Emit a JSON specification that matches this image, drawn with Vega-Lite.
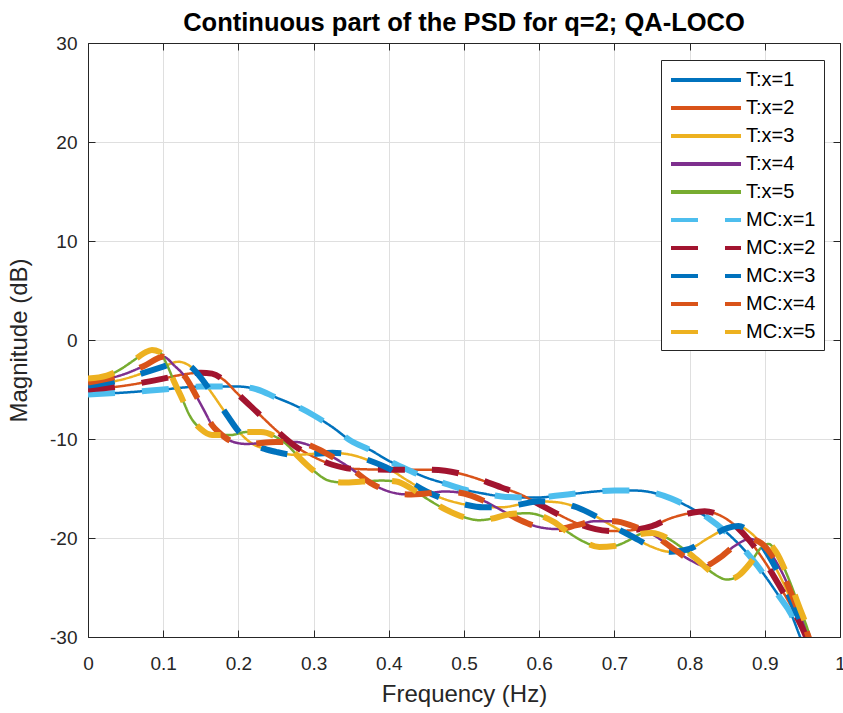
{
"$schema": "https://vega.github.io/schema/vega-lite/v6.json",
"width": 752, "height": 594,
"autosize": {"type": "none"},
"padding": {"left": 88, "top": 43, "right": 3, "bottom": 76},
"background": "white",
"title": {"text": "Continuous part of the PSD for q=2; QA-LOCO", "font": "Liberation Sans", "fontSize": 25.5, "fontWeight": "bold", "color": "black", "anchor": "middle", "offset": -2},
"config": {"view": {"stroke": null}},
"datasets": {
"T": [
{"s":"T:x=1","f":0,"m":-5.5},{"s":"T:x=1","f":0.05,"m":-5.3},{"s":"T:x=1","f":0.1,"m":-5.0},{"s":"T:x=1","f":0.15,"m":-4.7},{"s":"T:x=1","f":0.2,"m":-4.7},{"s":"T:x=1","f":0.225,"m":-5.0},{"s":"T:x=1","f":0.25,"m":-5.8},{"s":"T:x=1","f":0.275,"m":-6.6},{"s":"T:x=1","f":0.3,"m":-7.6},{"s":"T:x=1","f":0.325,"m":-8.8},{"s":"T:x=1","f":0.35,"m":-10.2},{"s":"T:x=1","f":0.375,"m":-11.1},{"s":"T:x=1","f":0.4,"m":-12.2},{"s":"T:x=1","f":0.425,"m":-13.1},{"s":"T:x=1","f":0.45,"m":-13.9},{"s":"T:x=1","f":0.475,"m":-14.5},{"s":"T:x=1","f":0.5,"m":-15.1},{"s":"T:x=1","f":0.525,"m":-15.5},{"s":"T:x=1","f":0.55,"m":-15.8},{"s":"T:x=1","f":0.575,"m":-15.9},{"s":"T:x=1","f":0.6,"m":-15.9},{"s":"T:x=1","f":0.625,"m":-15.7},{"s":"T:x=1","f":0.65,"m":-15.5},{"s":"T:x=1","f":0.675,"m":-15.3},{"s":"T:x=1","f":0.7,"m":-15.2},{"s":"T:x=1","f":0.725,"m":-15.2},{"s":"T:x=1","f":0.75,"m":-15.4},{"s":"T:x=1","f":0.775,"m":-16.0},{"s":"T:x=1","f":0.8,"m":-16.9},{"s":"T:x=1","f":0.825,"m":-18.0},{"s":"T:x=1","f":0.85,"m":-19.5},{"s":"T:x=1","f":0.875,"m":-21.4},{"s":"T:x=1","f":0.9,"m":-23.8},{"s":"T:x=1","f":0.92,"m":-26.0},{"s":"T:x=1","f":0.935,"m":-27.7},{"s":"T:x=1","f":0.947,"m":-30},{"s":"T:x=1","f":0.955,"m":-31.5},
{"s":"T:x=2","f":0,"m":-5.0},{"s":"T:x=2","f":0.05,"m":-4.6},{"s":"T:x=2","f":0.1,"m":-3.9},{"s":"T:x=2","f":0.125,"m":-3.5},{"s":"T:x=2","f":0.15,"m":-3.3},{"s":"T:x=2","f":0.165,"m":-3.4},{"s":"T:x=2","f":0.18,"m":-4.0},{"s":"T:x=2","f":0.2,"m":-5.5},{"s":"T:x=2","f":0.225,"m":-7.3},{"s":"T:x=2","f":0.25,"m":-9.1},{"s":"T:x=2","f":0.275,"m":-10.7},{"s":"T:x=2","f":0.3,"m":-11.8},{"s":"T:x=2","f":0.325,"m":-12.6},{"s":"T:x=2","f":0.35,"m":-13.0},{"s":"T:x=2","f":0.4,"m":-13.1},{"s":"T:x=2","f":0.45,"m":-13.1},{"s":"T:x=2","f":0.475,"m":-13.2},{"s":"T:x=2","f":0.5,"m":-13.6},{"s":"T:x=2","f":0.525,"m":-14.2},{"s":"T:x=2","f":0.55,"m":-14.9},{"s":"T:x=2","f":0.575,"m":-15.6},{"s":"T:x=2","f":0.6,"m":-16.6},{"s":"T:x=2","f":0.625,"m":-17.6},{"s":"T:x=2","f":0.65,"m":-18.5},{"s":"T:x=2","f":0.675,"m":-19.1},{"s":"T:x=2","f":0.7,"m":-19.3},{"s":"T:x=2","f":0.725,"m":-19.2},{"s":"T:x=2","f":0.75,"m":-18.8},{"s":"T:x=2","f":0.775,"m":-18.0},{"s":"T:x=2","f":0.8,"m":-17.5},{"s":"T:x=2","f":0.82,"m":-17.3},{"s":"T:x=2","f":0.84,"m":-17.7},{"s":"T:x=2","f":0.86,"m":-18.7},{"s":"T:x=2","f":0.88,"m":-20.3},{"s":"T:x=2","f":0.9,"m":-22.4},{"s":"T:x=2","f":0.92,"m":-24.9},{"s":"T:x=2","f":0.94,"m":-27.6},{"s":"T:x=2","f":0.955,"m":-30},{"s":"T:x=2","f":0.962,"m":-31.5},
{"s":"T:x=3","f":0,"m":-4.6},{"s":"T:x=3","f":0.05,"m":-3.9},{"s":"T:x=3","f":0.075,"m":-3.3},{"s":"T:x=3","f":0.1,"m":-2.7},{"s":"T:x=3","f":0.12,"m":-2.2},{"s":"T:x=3","f":0.135,"m":-2.6},{"s":"T:x=3","f":0.15,"m":-3.8},{"s":"T:x=3","f":0.165,"m":-5.4},{"s":"T:x=3","f":0.185,"m":-7.6},{"s":"T:x=3","f":0.2,"m":-9.2},{"s":"T:x=3","f":0.215,"m":-10.3},{"s":"T:x=3","f":0.235,"m":-11.0},{"s":"T:x=3","f":0.25,"m":-11.3},{"s":"T:x=3","f":0.275,"m":-11.6},{"s":"T:x=3","f":0.3,"m":-11.5},{"s":"T:x=3","f":0.325,"m":-11.4},{"s":"T:x=3","f":0.35,"m":-11.6},{"s":"T:x=3","f":0.375,"m":-12.2},{"s":"T:x=3","f":0.4,"m":-13.0},{"s":"T:x=3","f":0.425,"m":-14.2},{"s":"T:x=3","f":0.45,"m":-15.3},{"s":"T:x=3","f":0.475,"m":-16.1},{"s":"T:x=3","f":0.5,"m":-16.6},{"s":"T:x=3","f":0.525,"m":-16.9},{"s":"T:x=3","f":0.55,"m":-16.9},{"s":"T:x=3","f":0.575,"m":-16.6},{"s":"T:x=3","f":0.6,"m":-16.3},{"s":"T:x=3","f":0.625,"m":-16.4},{"s":"T:x=3","f":0.65,"m":-16.9},{"s":"T:x=3","f":0.675,"m":-17.8},{"s":"T:x=3","f":0.7,"m":-18.9},{"s":"T:x=3","f":0.725,"m":-19.9},{"s":"T:x=3","f":0.75,"m":-20.9},{"s":"T:x=3","f":0.775,"m":-21.4},{"s":"T:x=3","f":0.8,"m":-21.1},{"s":"T:x=3","f":0.825,"m":-20.0},{"s":"T:x=3","f":0.85,"m":-19.0},{"s":"T:x=3","f":0.865,"m":-18.8},{"s":"T:x=3","f":0.88,"m":-19.4},{"s":"T:x=3","f":0.895,"m":-20.6},{"s":"T:x=3","f":0.91,"m":-22.4},{"s":"T:x=3","f":0.925,"m":-24.6},{"s":"T:x=3","f":0.94,"m":-27.2},{"s":"T:x=3","f":0.955,"m":-30},{"s":"T:x=3","f":0.96,"m":-31.5},
{"s":"T:x=4","f":0,"m":-4.3},{"s":"T:x=4","f":0.05,"m":-3.4},{"s":"T:x=4","f":0.075,"m":-2.6},{"s":"T:x=4","f":0.1,"m":-1.7},{"s":"T:x=4","f":0.115,"m":-2.6},{"s":"T:x=4","f":0.13,"m":-3.8},{"s":"T:x=4","f":0.145,"m":-5.8},{"s":"T:x=4","f":0.155,"m":-7.2},{"s":"T:x=4","f":0.165,"m":-8.6},{"s":"T:x=4","f":0.175,"m":-9.4},{"s":"T:x=4","f":0.19,"m":-10.2},{"s":"T:x=4","f":0.21,"m":-10.5},{"s":"T:x=4","f":0.25,"m":-10.3},{"s":"T:x=4","f":0.275,"m":-10.3},{"s":"T:x=4","f":0.3,"m":-10.8},{"s":"T:x=4","f":0.325,"m":-11.8},{"s":"T:x=4","f":0.35,"m":-13.0},{"s":"T:x=4","f":0.375,"m":-14.4},{"s":"T:x=4","f":0.4,"m":-15.3},{"s":"T:x=4","f":0.425,"m":-15.6},{"s":"T:x=4","f":0.45,"m":-15.5},{"s":"T:x=4","f":0.475,"m":-15.3},{"s":"T:x=4","f":0.5,"m":-15.5},{"s":"T:x=4","f":0.525,"m":-16.2},{"s":"T:x=4","f":0.55,"m":-17.2},{"s":"T:x=4","f":0.575,"m":-18.2},{"s":"T:x=4","f":0.6,"m":-18.9},{"s":"T:x=4","f":0.625,"m":-19.1},{"s":"T:x=4","f":0.65,"m":-18.7},{"s":"T:x=4","f":0.675,"m":-18.3},{"s":"T:x=4","f":0.7,"m":-18.3},{"s":"T:x=4","f":0.725,"m":-18.8},{"s":"T:x=4","f":0.75,"m":-19.6},{"s":"T:x=4","f":0.775,"m":-20.9},{"s":"T:x=4","f":0.8,"m":-22.2},{"s":"T:x=4","f":0.82,"m":-22.8},{"s":"T:x=4","f":0.84,"m":-22.0},{"s":"T:x=4","f":0.86,"m":-20.8},{"s":"T:x=4","f":0.88,"m":-20.1},{"s":"T:x=4","f":0.895,"m":-20.5},{"s":"T:x=4","f":0.91,"m":-21.8},{"s":"T:x=4","f":0.925,"m":-23.8},{"s":"T:x=4","f":0.94,"m":-26.5},{"s":"T:x=4","f":0.955,"m":-29.3},{"s":"T:x=4","f":0.965,"m":-31.5},
{"s":"T:x=5","f":0,"m":-3.9},{"s":"T:x=5","f":0.025,"m":-3.6},{"s":"T:x=5","f":0.04,"m":-3.1},{"s":"T:x=5","f":0.06,"m":-2.1},{"s":"T:x=5","f":0.075,"m":-1.3},{"s":"T:x=5","f":0.085,"m":-1.0},{"s":"T:x=5","f":0.095,"m":-1.2},{"s":"T:x=5","f":0.105,"m":-2.5},{"s":"T:x=5","f":0.115,"m":-4.3},{"s":"T:x=5","f":0.125,"m":-5.9},{"s":"T:x=5","f":0.135,"m":-7.6},{"s":"T:x=5","f":0.15,"m":-9.0},{"s":"T:x=5","f":0.165,"m":-9.6},{"s":"T:x=5","f":0.19,"m":-9.6},{"s":"T:x=5","f":0.21,"m":-9.3},{"s":"T:x=5","f":0.23,"m":-9.3},{"s":"T:x=5","f":0.25,"m":-9.8},{"s":"T:x=5","f":0.265,"m":-10.6},{"s":"T:x=5","f":0.28,"m":-11.8},{"s":"T:x=5","f":0.3,"m":-13.2},{"s":"T:x=5","f":0.32,"m":-14.2},{"s":"T:x=5","f":0.34,"m":-14.4},{"s":"T:x=5","f":0.365,"m":-14.3},{"s":"T:x=5","f":0.39,"m":-14.2},{"s":"T:x=5","f":0.41,"m":-14.3},{"s":"T:x=5","f":0.43,"m":-15.0},{"s":"T:x=5","f":0.45,"m":-16.0},{"s":"T:x=5","f":0.475,"m":-17.1},{"s":"T:x=5","f":0.5,"m":-17.9},{"s":"T:x=5","f":0.52,"m":-18.2},{"s":"T:x=5","f":0.54,"m":-18.0},{"s":"T:x=5","f":0.56,"m":-17.6},{"s":"T:x=5","f":0.585,"m":-17.5},{"s":"T:x=5","f":0.6,"m":-17.7},{"s":"T:x=5","f":0.62,"m":-18.4},{"s":"T:x=5","f":0.64,"m":-19.5},{"s":"T:x=5","f":0.66,"m":-20.4},{"s":"T:x=5","f":0.68,"m":-20.9},{"s":"T:x=5","f":0.7,"m":-20.8},{"s":"T:x=5","f":0.72,"m":-20.2},{"s":"T:x=5","f":0.735,"m":-19.6},{"s":"T:x=5","f":0.75,"m":-19.5},{"s":"T:x=5","f":0.77,"m":-20.0},{"s":"T:x=5","f":0.79,"m":-21.0},{"s":"T:x=5","f":0.81,"m":-22.2},{"s":"T:x=5","f":0.83,"m":-23.5},{"s":"T:x=5","f":0.85,"m":-24.2},{"s":"T:x=5","f":0.865,"m":-23.8},{"s":"T:x=5","f":0.88,"m":-22.6},{"s":"T:x=5","f":0.895,"m":-21.0},{"s":"T:x=5","f":0.905,"m":-20.6},{"s":"T:x=5","f":0.915,"m":-21.4},{"s":"T:x=5","f":0.93,"m":-23.8},{"s":"T:x=5","f":0.945,"m":-26.8},{"s":"T:x=5","f":0.96,"m":-30},{"s":"T:x=5","f":0.965,"m":-31.5}
],
"MC": [
{"s":"MC:x=1","f":0,"m":-5.5},{"s":"MC:x=1","f":0.05,"m":-5.3},{"s":"MC:x=1","f":0.1,"m":-5.0},{"s":"MC:x=1","f":0.15,"m":-4.7},{"s":"MC:x=1","f":0.2,"m":-4.7},{"s":"MC:x=1","f":0.225,"m":-5.0},{"s":"MC:x=1","f":0.25,"m":-5.8},{"s":"MC:x=1","f":0.275,"m":-6.6},{"s":"MC:x=1","f":0.3,"m":-7.6},{"s":"MC:x=1","f":0.325,"m":-8.8},{"s":"MC:x=1","f":0.35,"m":-10.2},{"s":"MC:x=1","f":0.375,"m":-11.1},{"s":"MC:x=1","f":0.4,"m":-12.2},{"s":"MC:x=1","f":0.425,"m":-13.1},{"s":"MC:x=1","f":0.45,"m":-13.9},{"s":"MC:x=1","f":0.475,"m":-14.5},{"s":"MC:x=1","f":0.5,"m":-15.1},{"s":"MC:x=1","f":0.525,"m":-15.5},{"s":"MC:x=1","f":0.55,"m":-15.8},{"s":"MC:x=1","f":0.575,"m":-15.9},{"s":"MC:x=1","f":0.6,"m":-15.9},{"s":"MC:x=1","f":0.625,"m":-15.7},{"s":"MC:x=1","f":0.65,"m":-15.5},{"s":"MC:x=1","f":0.675,"m":-15.3},{"s":"MC:x=1","f":0.7,"m":-15.2},{"s":"MC:x=1","f":0.725,"m":-15.2},{"s":"MC:x=1","f":0.75,"m":-15.4},{"s":"MC:x=1","f":0.775,"m":-16.0},{"s":"MC:x=1","f":0.8,"m":-16.9},{"s":"MC:x=1","f":0.825,"m":-18.0},{"s":"MC:x=1","f":0.85,"m":-19.5},{"s":"MC:x=1","f":0.875,"m":-21.4},{"s":"MC:x=1","f":0.9,"m":-23.8},{"s":"MC:x=1","f":0.92,"m":-26.0},{"s":"MC:x=1","f":0.935,"m":-27.7},{"s":"MC:x=1","f":0.947,"m":-30},{"s":"MC:x=1","f":0.955,"m":-31.5},
{"s":"MC:x=2","f":0,"m":-5.0},{"s":"MC:x=2","f":0.05,"m":-4.6},{"s":"MC:x=2","f":0.1,"m":-3.9},{"s":"MC:x=2","f":0.125,"m":-3.5},{"s":"MC:x=2","f":0.15,"m":-3.3},{"s":"MC:x=2","f":0.165,"m":-3.4},{"s":"MC:x=2","f":0.18,"m":-4.0},{"s":"MC:x=2","f":0.2,"m":-5.5},{"s":"MC:x=2","f":0.225,"m":-7.3},{"s":"MC:x=2","f":0.25,"m":-9.1},{"s":"MC:x=2","f":0.275,"m":-10.7},{"s":"MC:x=2","f":0.3,"m":-11.8},{"s":"MC:x=2","f":0.325,"m":-12.6},{"s":"MC:x=2","f":0.35,"m":-13.0},{"s":"MC:x=2","f":0.4,"m":-13.1},{"s":"MC:x=2","f":0.45,"m":-13.1},{"s":"MC:x=2","f":0.475,"m":-13.2},{"s":"MC:x=2","f":0.5,"m":-13.6},{"s":"MC:x=2","f":0.525,"m":-14.2},{"s":"MC:x=2","f":0.55,"m":-14.9},{"s":"MC:x=2","f":0.575,"m":-15.6},{"s":"MC:x=2","f":0.6,"m":-16.6},{"s":"MC:x=2","f":0.625,"m":-17.6},{"s":"MC:x=2","f":0.65,"m":-18.5},{"s":"MC:x=2","f":0.675,"m":-19.1},{"s":"MC:x=2","f":0.7,"m":-19.3},{"s":"MC:x=2","f":0.725,"m":-19.2},{"s":"MC:x=2","f":0.75,"m":-18.8},{"s":"MC:x=2","f":0.775,"m":-18.0},{"s":"MC:x=2","f":0.8,"m":-17.5},{"s":"MC:x=2","f":0.82,"m":-17.3},{"s":"MC:x=2","f":0.84,"m":-17.7},{"s":"MC:x=2","f":0.86,"m":-18.7},{"s":"MC:x=2","f":0.88,"m":-20.3},{"s":"MC:x=2","f":0.9,"m":-22.4},{"s":"MC:x=2","f":0.92,"m":-24.9},{"s":"MC:x=2","f":0.94,"m":-27.6},{"s":"MC:x=2","f":0.955,"m":-30},{"s":"MC:x=2","f":0.962,"m":-31.5},
{"s":"MC:x=3","f":0,"m":-4.6},{"s":"MC:x=3","f":0.05,"m":-3.9},{"s":"MC:x=3","f":0.075,"m":-3.3},{"s":"MC:x=3","f":0.1,"m":-2.7},{"s":"MC:x=3","f":0.12,"m":-2.2},{"s":"MC:x=3","f":0.135,"m":-2.6},{"s":"MC:x=3","f":0.15,"m":-3.8},{"s":"MC:x=3","f":0.165,"m":-5.4},{"s":"MC:x=3","f":0.185,"m":-7.6},{"s":"MC:x=3","f":0.2,"m":-9.2},{"s":"MC:x=3","f":0.215,"m":-10.3},{"s":"MC:x=3","f":0.235,"m":-11.0},{"s":"MC:x=3","f":0.25,"m":-11.3},{"s":"MC:x=3","f":0.275,"m":-11.6},{"s":"MC:x=3","f":0.3,"m":-11.5},{"s":"MC:x=3","f":0.325,"m":-11.4},{"s":"MC:x=3","f":0.35,"m":-11.6},{"s":"MC:x=3","f":0.375,"m":-12.2},{"s":"MC:x=3","f":0.4,"m":-13.0},{"s":"MC:x=3","f":0.425,"m":-14.2},{"s":"MC:x=3","f":0.45,"m":-15.3},{"s":"MC:x=3","f":0.475,"m":-16.1},{"s":"MC:x=3","f":0.5,"m":-16.6},{"s":"MC:x=3","f":0.525,"m":-16.9},{"s":"MC:x=3","f":0.55,"m":-16.9},{"s":"MC:x=3","f":0.575,"m":-16.6},{"s":"MC:x=3","f":0.6,"m":-16.3},{"s":"MC:x=3","f":0.625,"m":-16.4},{"s":"MC:x=3","f":0.65,"m":-16.9},{"s":"MC:x=3","f":0.675,"m":-17.8},{"s":"MC:x=3","f":0.7,"m":-18.9},{"s":"MC:x=3","f":0.725,"m":-19.9},{"s":"MC:x=3","f":0.75,"m":-20.9},{"s":"MC:x=3","f":0.775,"m":-21.4},{"s":"MC:x=3","f":0.8,"m":-21.1},{"s":"MC:x=3","f":0.825,"m":-20.0},{"s":"MC:x=3","f":0.85,"m":-19.0},{"s":"MC:x=3","f":0.865,"m":-18.8},{"s":"MC:x=3","f":0.88,"m":-19.4},{"s":"MC:x=3","f":0.895,"m":-20.6},{"s":"MC:x=3","f":0.91,"m":-22.4},{"s":"MC:x=3","f":0.925,"m":-24.6},{"s":"MC:x=3","f":0.94,"m":-27.2},{"s":"MC:x=3","f":0.955,"m":-30},{"s":"MC:x=3","f":0.96,"m":-31.5},
{"s":"MC:x=4","f":0,"m":-4.3},{"s":"MC:x=4","f":0.05,"m":-3.4},{"s":"MC:x=4","f":0.075,"m":-2.6},{"s":"MC:x=4","f":0.1,"m":-1.7},{"s":"MC:x=4","f":0.115,"m":-2.6},{"s":"MC:x=4","f":0.13,"m":-3.8},{"s":"MC:x=4","f":0.145,"m":-5.8},{"s":"MC:x=4","f":0.155,"m":-7.2},{"s":"MC:x=4","f":0.165,"m":-8.6},{"s":"MC:x=4","f":0.175,"m":-9.4},{"s":"MC:x=4","f":0.19,"m":-10.2},{"s":"MC:x=4","f":0.21,"m":-10.5},{"s":"MC:x=4","f":0.25,"m":-10.3},{"s":"MC:x=4","f":0.275,"m":-10.3},{"s":"MC:x=4","f":0.3,"m":-10.8},{"s":"MC:x=4","f":0.325,"m":-11.8},{"s":"MC:x=4","f":0.35,"m":-13.0},{"s":"MC:x=4","f":0.375,"m":-14.4},{"s":"MC:x=4","f":0.4,"m":-15.3},{"s":"MC:x=4","f":0.425,"m":-15.6},{"s":"MC:x=4","f":0.45,"m":-15.5},{"s":"MC:x=4","f":0.475,"m":-15.3},{"s":"MC:x=4","f":0.5,"m":-15.5},{"s":"MC:x=4","f":0.525,"m":-16.2},{"s":"MC:x=4","f":0.55,"m":-17.2},{"s":"MC:x=4","f":0.575,"m":-18.2},{"s":"MC:x=4","f":0.6,"m":-18.9},{"s":"MC:x=4","f":0.625,"m":-19.1},{"s":"MC:x=4","f":0.65,"m":-18.7},{"s":"MC:x=4","f":0.675,"m":-18.3},{"s":"MC:x=4","f":0.7,"m":-18.3},{"s":"MC:x=4","f":0.725,"m":-18.8},{"s":"MC:x=4","f":0.75,"m":-19.6},{"s":"MC:x=4","f":0.775,"m":-20.9},{"s":"MC:x=4","f":0.8,"m":-22.2},{"s":"MC:x=4","f":0.82,"m":-22.8},{"s":"MC:x=4","f":0.84,"m":-22.0},{"s":"MC:x=4","f":0.86,"m":-20.8},{"s":"MC:x=4","f":0.88,"m":-20.1},{"s":"MC:x=4","f":0.895,"m":-20.5},{"s":"MC:x=4","f":0.91,"m":-21.8},{"s":"MC:x=4","f":0.925,"m":-23.8},{"s":"MC:x=4","f":0.94,"m":-26.5},{"s":"MC:x=4","f":0.955,"m":-29.3},{"s":"MC:x=4","f":0.965,"m":-31.5},
{"s":"MC:x=5","f":0,"m":-3.9},{"s":"MC:x=5","f":0.025,"m":-3.6},{"s":"MC:x=5","f":0.04,"m":-3.1},{"s":"MC:x=5","f":0.06,"m":-2.1},{"s":"MC:x=5","f":0.075,"m":-1.3},{"s":"MC:x=5","f":0.085,"m":-1.0},{"s":"MC:x=5","f":0.095,"m":-1.2},{"s":"MC:x=5","f":0.105,"m":-2.5},{"s":"MC:x=5","f":0.115,"m":-4.3},{"s":"MC:x=5","f":0.125,"m":-5.9},{"s":"MC:x=5","f":0.135,"m":-7.6},{"s":"MC:x=5","f":0.15,"m":-9.0},{"s":"MC:x=5","f":0.165,"m":-9.6},{"s":"MC:x=5","f":0.19,"m":-9.6},{"s":"MC:x=5","f":0.21,"m":-9.3},{"s":"MC:x=5","f":0.23,"m":-9.3},{"s":"MC:x=5","f":0.25,"m":-9.8},{"s":"MC:x=5","f":0.265,"m":-10.6},{"s":"MC:x=5","f":0.28,"m":-11.8},{"s":"MC:x=5","f":0.3,"m":-13.2},{"s":"MC:x=5","f":0.32,"m":-14.2},{"s":"MC:x=5","f":0.34,"m":-14.4},{"s":"MC:x=5","f":0.365,"m":-14.3},{"s":"MC:x=5","f":0.39,"m":-14.2},{"s":"MC:x=5","f":0.41,"m":-14.3},{"s":"MC:x=5","f":0.43,"m":-15.0},{"s":"MC:x=5","f":0.45,"m":-16.0},{"s":"MC:x=5","f":0.475,"m":-17.1},{"s":"MC:x=5","f":0.5,"m":-17.9},{"s":"MC:x=5","f":0.52,"m":-18.2},{"s":"MC:x=5","f":0.54,"m":-18.0},{"s":"MC:x=5","f":0.56,"m":-17.6},{"s":"MC:x=5","f":0.585,"m":-17.5},{"s":"MC:x=5","f":0.6,"m":-17.7},{"s":"MC:x=5","f":0.62,"m":-18.4},{"s":"MC:x=5","f":0.64,"m":-19.5},{"s":"MC:x=5","f":0.66,"m":-20.4},{"s":"MC:x=5","f":0.68,"m":-20.9},{"s":"MC:x=5","f":0.7,"m":-20.8},{"s":"MC:x=5","f":0.72,"m":-20.2},{"s":"MC:x=5","f":0.735,"m":-19.6},{"s":"MC:x=5","f":0.75,"m":-19.5},{"s":"MC:x=5","f":0.77,"m":-20.0},{"s":"MC:x=5","f":0.79,"m":-21.0},{"s":"MC:x=5","f":0.81,"m":-22.2},{"s":"MC:x=5","f":0.83,"m":-23.5},{"s":"MC:x=5","f":0.85,"m":-24.2},{"s":"MC:x=5","f":0.865,"m":-23.8},{"s":"MC:x=5","f":0.88,"m":-22.6},{"s":"MC:x=5","f":0.895,"m":-21.0},{"s":"MC:x=5","f":0.905,"m":-20.6},{"s":"MC:x=5","f":0.915,"m":-21.4},{"s":"MC:x=5","f":0.93,"m":-23.8},{"s":"MC:x=5","f":0.945,"m":-26.8},{"s":"MC:x=5","f":0.96,"m":-30},{"s":"MC:x=5","f":0.965,"m":-31.5}
]
},
"layer": [
{
"data": {"name": "T"},
"mark": {"type": "line", "strokeWidth": 2.5, "interpolate": "monotone", "clip": true},
"encoding": {
"x": {"field": "f", "type": "quantitative", "scale": {"domain": [0, 1], "nice": false},
 "axis": {"orient": "bottom", "title": "Frequency (Hz)", "values": [0,0.1,0.2,0.3,0.4,0.5,0.6,0.7,0.8,0.9,1], "labelExpr": "toString(datum.value)", "grid": true, "gridColor": "#dfdfdf", "gridWidth": 1, "domainColor": "#262626", "domainWidth": 1, "tickColor": "#262626", "tickSize": -7, "labelPadding": 24, "labelFont": "Liberation Sans", "labelFontSize": 19, "labelColor": "#262626", "labelFlush": false, "labelOverlap": false, "titleFont": "Liberation Sans", "titleFontSize": 24, "titleFontWeight": "normal", "titleColor": "#262626", "titlePadding": 9}},
"y": {"field": "m", "type": "quantitative", "scale": {"domain": [-30, 30], "nice": false},
 "axis": {"orient": "left", "title": "Magnitude (dB)", "values": [-30,-20,-10,0,10,20,30], "labelExpr": "toString(datum.value)", "grid": true, "gridColor": "#dfdfdf", "gridWidth": 1, "domainColor": "#262626", "domainWidth": 1, "tickColor": "#262626", "tickSize": -7, "labelPadding": 18, "labelFont": "Liberation Sans", "labelFontSize": 19, "labelColor": "#262626", "labelFlush": false, "labelOverlap": false, "titleFont": "Liberation Sans", "titleFontSize": 24, "titleFontWeight": "normal", "titleColor": "#262626", "titlePadding": 18}},
"color": {"field": "s", "type": "nominal",
 "scale": {"domain": ["T:x=1","T:x=2","T:x=3","T:x=4","T:x=5","MC:x=1","MC:x=2","MC:x=3","MC:x=4","MC:x=5"], "range": ["#0072BD","#D95319","#EDB120","#7E2F8E","#77AC30","#4DBEEE","#A2142F","#0072BD","#D95319","#EDB120"]},
 "legend": {"title": null, "orient": "none", "legendX": 573, "legendY": 17, "padding": 8, "strokeColor": "#262626", "fillColor": "white", "labelFont": "Liberation Sans", "labelFontSize": 20, "labelColor": "black", "labelOffset": 53, "symbolType": "M-1,0H6", "symbolSize": 400, "symbolStrokeWidth": 4, "rowPadding": 6}},
"strokeDash": {"field": "s", "type": "nominal",
 "scale": {"domain": ["T:x=1","T:x=2","T:x=3","T:x=4","T:x=5","MC:x=1","MC:x=2","MC:x=3","MC:x=4","MC:x=5"], "range": [[1,0],[1,0],[1,0],[1,0],[1,0],[27,27],[27,27],[27,27],[27,27],[27,27]]},
 "legend": {"title": null, "orient": "none", "legendX": 573, "legendY": 17, "padding": 8, "strokeColor": "#262626", "fillColor": "white", "labelFont": "Liberation Sans", "labelFontSize": 20, "labelColor": "black", "labelOffset": 53, "symbolType": "M-1,0H6", "symbolSize": 400, "symbolStrokeWidth": 4, "rowPadding": 6}}
}
},
{
"data": {"name": "MC"},
"mark": {"type": "line", "strokeWidth": 6, "interpolate": "monotone", "clip": true},
"encoding": {
"x": {"field": "f", "type": "quantitative",
 "axis": {"orient": "top", "title": null, "labels": false, "grid": false, "values": [0,0.1,0.2,0.3,0.4,0.5,0.6,0.7,0.8,0.9,1], "domainColor": "#262626", "domainWidth": 1, "tickColor": "#262626", "tickSize": -7}},
"y": {"field": "m", "type": "quantitative",
 "axis": {"orient": "right", "title": null, "labels": false, "grid": false, "values": [-30,-20,-10,0,10,20,30], "domainColor": "#262626", "domainWidth": 1, "tickColor": "#262626", "tickSize": -7}},
"color": {"field": "s", "type": "nominal"},
"strokeDash": {"field": "s", "type": "nominal"}
}
}
],
"resolve": {"axis": {"x": "independent", "y": "independent"}}
}
